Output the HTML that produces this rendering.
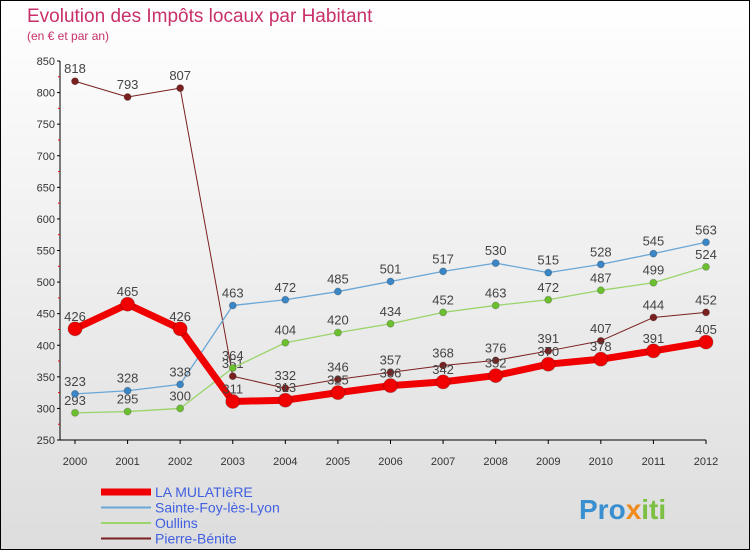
<!DOCTYPE html>
<html><head><meta charset="utf-8"><style>
body{margin:0;}
#c{width:748px;height:548px;border:1px solid #000;background:linear-gradient(#fff,#ddd);position:relative;overflow:hidden;font-family:"Liberation Sans",sans-serif;}
</style></head><body>
<div id="c">
<svg id="s" width="748" height="548">
<text x="26" y="21" font-size="19" fill="#c8306a">Evolution des Impôts locaux par Habitant</text>
<text x="26" y="39" font-size="12" fill="#c8306a">(en € et par an)</text>
<g id="ax"></g><g id="ser"></g><g id="leg"></g>
<text x="578" y="518" font-size="28" font-weight="bold" fill="#3a8fd0">Pro<tspan fill="#f08a1c">x</tspan><tspan fill="#7bc043">iti</tspan></text>
</svg></div>
<script>
const years=[2000,2001,2002,2003,2004,2005,2006,2007,2008,2009,2010,2011,2012];
const yTicks=[250,300,350,400,450,500,550,600,650,700,750,800,850];
const mulatiere=[426,465,426,311,313,325,336,342,352,370,378,391,405];
const steFoy=[323,328,338,463,472,485,501,517,530,515,528,545,563];
const oullins=[293,295,300,364,404,420,434,452,463,472,487,499,524];
const pierreBenite=[818,793,807,351,332,346,357,368,376,391,407,444,452];
const NS="http://www.w3.org/2000/svg";
const X=i=>74+i*(631/12);
const Y=v=>60+(850-v)*(379/600);
function mk(p,t,a){const e=document.createElementNS(NS,t);for(const k in a)e.setAttribute(k,a[k]);p.appendChild(e);return e;}
const ax=document.getElementById('ax');
let l=mk(ax,'line',{x1:59,y1:Y(850),x2:59,y2:Y(250),stroke:'#000'});


l=mk(ax,'line',{x1:59,y1:Y(250),x2:X(12),y2:Y(250),stroke:'#000'});


yTicks.forEach(v=>{mk(ax,'line',{x1:56,y1:Y(v),x2:59,y2:Y(v),stroke:'#000'});
mk(ax,'line',{x1:57,y1:Y(v+25),x2:59,y2:Y(v+25),stroke:v<850?'#e00':'none'});
const t=mk(ax,'text',{x:54,y:Y(v)+4,'font-size':11,'text-anchor':'end',fill:'#333'});t.textContent=v;

});
years.forEach((y,i)=>{mk(ax,'line',{x1:X(i),y1:Y(250),x2:X(i),y2:Y(250)+4,stroke:'#000'});
const t=mk(ax,'text',{x:X(i),y:464,'font-size':11,'text-anchor':'middle',fill:'#333'});t.textContent=y;

});
const series=[
{n:'Pierre-Bénite',d:pierreBenite,c:'#7a2020',w:1,r:3.5,key:'pierre-benite'},
{n:'Oullins',d:oullins,c:'#9ad46a',w:1.3,r:3.5,dot:'#6cc030',key:'oullins'},
{n:'Sainte-Foy-lès-Lyon',d:steFoy,c:'#6aa6d6',w:1.3,r:3.5,dot:'#3a86c6',key:'sainte-foy'},
{n:'LA MULATIèRE',d:mulatiere,c:'#f00000',w:7,r:7,key:'la-mulatiere'}];
const ser=document.getElementById('ser');
series.forEach(s=>{
const g=mk(ser,'g',{});


const p=mk(g,'polyline',{points:s.d.map((v,i)=>X(i)+','+Y(v)).join(' '),fill:'none',stroke:s.c,'stroke-width':s.w,'stroke-linejoin':'round'});


s.d.forEach((v,i)=>{const c=mk(g,'circle',{cx:X(i),cy:Y(v),r:s.r,fill:s.dot||s.c,stroke:'rgba(0,0,0,0.2)'});


const t=mk(g,'text',{x:X(i),y:Y(v)-8,'font-size':13,'text-anchor':'middle',fill:'#444'});t.textContent=v;

});
});
const leg=document.getElementById('leg');
[series[3],series[2],series[1],series[0]].forEach((s,i)=>{const y=491+i*15.5;
const g=mk(leg,'g',{});


mk(g,'line',{x1:100,y1:y,x2:150,y2:y,stroke:s.c,'stroke-width':s.w>2?7:2});
const t=mk(g,'text',{x:154,y:y+5,'font-size':14,fill:'#4060e0'});t.textContent=s.n;});
</script></body></html>
